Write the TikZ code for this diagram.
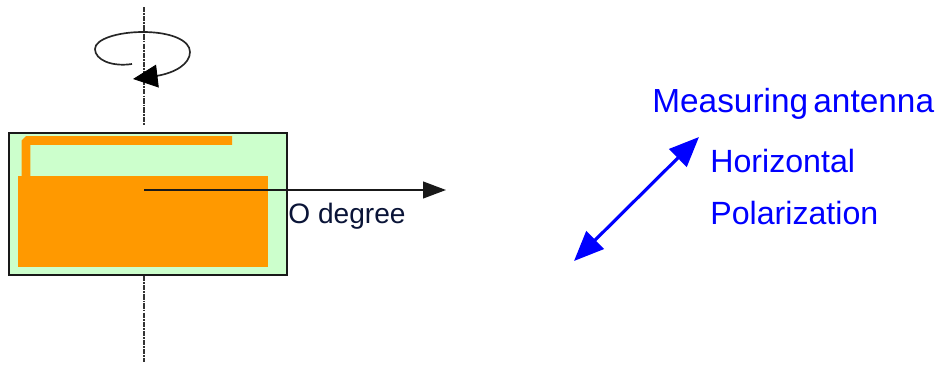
\documentclass[tikz,border=0pt]{standalone}
\usepackage{fontspec}
\setmainfont{Liberation Sans}
\usepackage{xcolor}
\usetikzlibrary{arrows.meta}
\definecolor{boardgreen}{RGB}{204,255,204}
\definecolor{patchorange}{RGB}{255,153,0}
\definecolor{polblue}{RGB}{0,0,255}
\definecolor{labelnavy}{RGB}{10,20,55}
\tikzset{
  axisline/.style={black!80, line width=1.6pt, dash pattern=on 3pt off 0.6pt on 1pt off 0.6pt},
  bluelabel/.style={polblue, anchor=west, inner sep=0pt, font=\fontsize{18.3pt}{20pt}\selectfont},
}
\begin{document}
\begin{tikzpicture}[x=0.02cm, y=-0.02cm]
        \useasboundingbox (0,0) rectangle (938,365);

        % Substrate and patch
        \node[draw=black!90, fill=boardgreen, line width=0.95pt, minimum width=5.56cm, minimum height=2.84cm, inner sep=0pt] (board) at (148,204) {};
        \node[fill=patchorange, minimum width=5cm, minimum height=1.82cm, inner sep=0pt] (patch) at (143,221.5) {};
        \coordinate (stubstart) at (26,176);
        \coordinate (stubcorner) at (26,140.5);
        \coordinate (stubend) at (232,140.5);
        \draw[patchorange, line width=5pt, rounded corners=1pt] (stubstart) -- (stubcorner) -- (stubend);

        % Rotation axis
        \coordinate (axistop) at (144,7);
        \coordinate (axistopend) at (144,125);
        \coordinate (axisbottom) at (144,276);
        \coordinate (axisbottomend) at (144,362);
        \draw[axisline] (axistop) -- (axistopend);
        \draw[axisline] (axisbottom) -- (axisbottomend);

        % Rotation sense
        \coordinate (spinstart) at (132,64);
        \coordinate (spinend) at (133,79);
        \draw[black!85, line width=0.95pt] (spinstart) .. controls (112,67) and (95,60) .. (95,49)
          .. controls (95,39) and (118,32) .. (143,32)
          .. controls (170,32) and (190,40) .. (190,52)
          .. controls (190,64) and (175,73) .. (156,76);
        \coordinate (spinneck) at (158,76);
        \draw[black, line width=0.5pt, -{Triangle[length=14pt, width=13pt]}] (spinneck) -- (spinend);

        % Main beam direction
        \coordinate (beamstart) at (144,190);
        \coordinate (beamend) at (446,190);
        \draw[black!90, line width=1pt, -{Triangle[length=13pt, width=9.5pt]}] (beamstart) -- (beamend);
        \node[labelnavy, anchor=west, inner sep=0pt, font=\fontsize{16pt}{18pt}\selectfont] (degree) at (288,216) {O degree};

        % Polarization
        \coordinate (polstart) at (574,261);
        \coordinate (polend) at (699,137);
        \draw[polblue, line width=1.8pt, {Triangle[length=17pt, width=14pt]}-{Triangle[length=17pt, width=14pt]}] (polstart) -- (polend);
        \node[bluelabel, font=\fontsize{19pt}{20pt}\selectfont] (measuring) at (652,104) {Measuring\hspace{3pt}antenna};
        \node[bluelabel] (horizontal) at (710,161) {Horizontal};
        \node[bluelabel] (polarization) at (710,213) {Polarization};
      \end{tikzpicture}
\end{document}
